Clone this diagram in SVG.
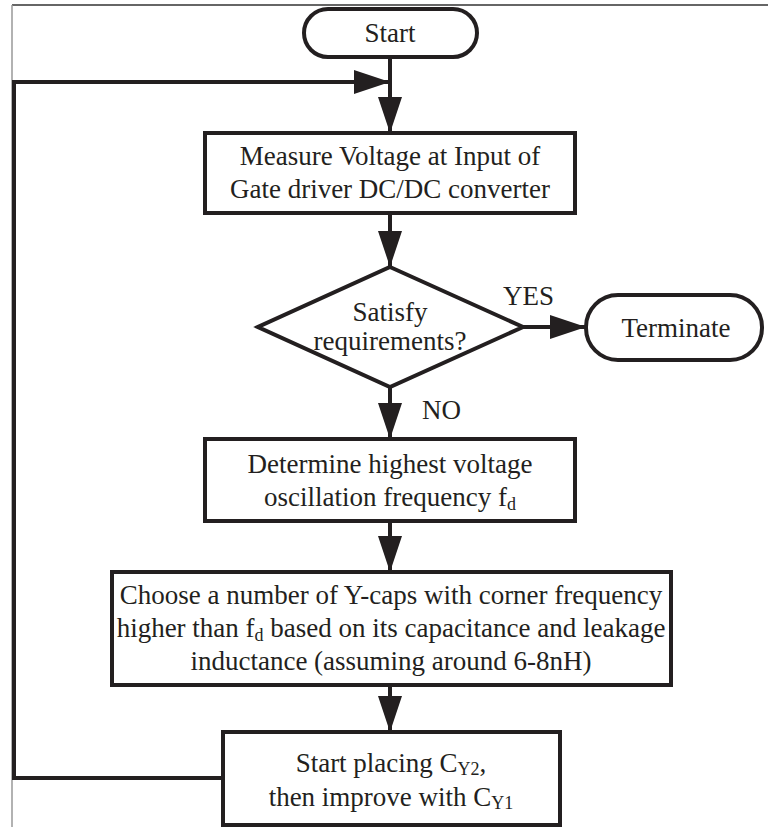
<svg xmlns="http://www.w3.org/2000/svg" width="768" height="827" viewBox="0 0 768 827">
<style>
.shape{fill:#fff;stroke:#231f20;stroke-width:4;stroke-linejoin:miter}
.line{fill:none;stroke:#231f20;stroke-width:4}
.t{font-family:"Liberation Serif","Times New Roman",serif;font-size:27px;fill:#231f20;text-anchor:middle}
.tl{font-family:"Liberation Serif","Times New Roman",serif;font-size:27px;fill:#231f20}
.sub{font-size:18px}
</style>
<defs>
<marker id="ah" markerUnits="userSpaceOnUse" markerWidth="36" markerHeight="24" refX="36" refY="12" orient="auto">
<path d="M0,0 L36,12 L0,24 Z" fill="#231f20"/>
</marker>
</defs>
<rect width="768" height="827" fill="#fff"/>
<g id="frame">
<line x1="12" y1="5" x2="768" y2="5" stroke="#333" stroke-width="1.3"/>
<line x1="12" y1="5" x2="12" y2="827" stroke="#999" stroke-width="1.5"/>
</g>
<g id="connectors">
<line class="line" x1="390" y1="57" x2="390" y2="133" marker-end="url(#ah)"/>
<polyline class="line" points="223,778 14,778 14,82 390,82" marker-end="url(#ah)"/>
<line class="line" x1="390" y1="213" x2="390" y2="267" marker-end="url(#ah)"/>
<line class="line" x1="523" y1="327" x2="586" y2="327" marker-end="url(#ah)"/>
<line class="line" x1="390" y1="387" x2="390" y2="439" marker-end="url(#ah)"/>
<line class="line" x1="390" y1="521" x2="390" y2="572" marker-end="url(#ah)"/>
<line class="line" x1="390" y1="685" x2="390" y2="732" marker-end="url(#ah)"/>
<text class="tl" x="503" y="305">YES</text>
<text class="tl" x="422" y="419">NO</text>
</g>
<g id="start">
<rect class="shape" x="304" y="9" width="173" height="48" rx="24" ry="24"/>
<text class="t" x="390" y="42">Start</text>
</g>
<g id="measure">
<rect class="shape" x="205" y="133" width="370" height="80"/>
<text class="t" x="390" y="165">Measure Voltage at Input of</text>
<text class="t" x="390" y="198">Gate driver DC/DC converter</text>
</g>
<g id="decision">
<polygon class="shape" points="390,267 523,327 390,387 258,327"/>
<text class="t" x="390" y="321">Satisfy</text>
<text class="t" x="390" y="350">requirements?</text>
</g>
<g id="terminate">
<rect class="shape" x="586" y="295" width="176" height="65" rx="32" ry="32"/>
<text class="t" x="676" y="337">Terminate</text>
</g>
<g id="determine">
<rect class="shape" x="205" y="439" width="370" height="82"/>
<text class="t" x="390" y="473">Determine highest voltage</text>
<text class="t" x="390" y="506">oscillation frequency f<tspan class="sub" dy="4">d</tspan></text>
</g>
<g id="choose">
<rect class="shape" x="112" y="572" width="559" height="113"/>
<text class="t" x="391" y="604">Choose a number of Y-caps with corner frequency</text>
<text class="t" x="391" y="637">higher than f<tspan class="sub" dy="4">d</tspan><tspan dy="-4"> based on its capacitance and leakage</tspan></text>
<text class="t" x="391" y="670">inductance (assuming around 6-8nH)</text>
</g>
<g id="place">
<rect class="shape" x="223" y="732" width="337" height="93"/>
<text class="t" x="391" y="772">Start placing C<tspan class="sub" dy="3">Y2</tspan><tspan dy="-3">,</tspan></text>
<text class="t" x="391" y="806">then improve with C<tspan class="sub" dy="3">Y1</tspan></text>
</g>
</svg>
